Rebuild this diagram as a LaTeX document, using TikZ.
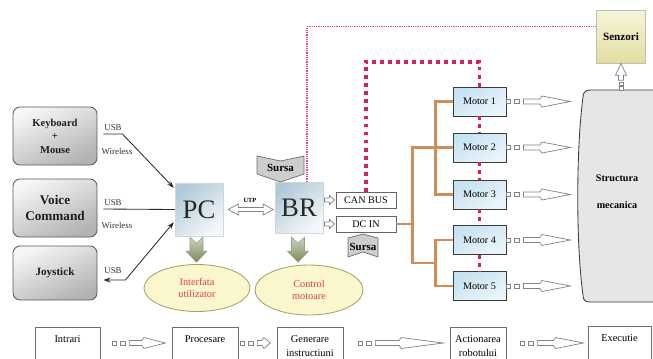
\documentclass[tikz,border=0pt]{standalone}
\usepackage{fontspec}
\setmainfont{Liberation Serif}
\usetikzlibrary{calc,shapes.geometric,arrows.meta}
\newcommand\pxu{0.025cm}

\begin{document}
\begin{tikzpicture}[x=0.025cm,y=-0.025cm,
  leftbox/.style={draw=r90g90b90, line width=0.6pt, rounded corners=5pt,
    top color=r246g246b246, bottom color=r178g178b178, shading angle=25,
    minimum width=84*\pxu, inner sep=0pt, align=center, text=r30g30b30},
  unitbox/.style={draw=r205g215b220, line width=0.3pt,
    top color=r178g202b216, bottom color=r244g247b249, shading angle=40,
    minimum width=48*\pxu, minimum height=52*\pxu, inner sep=0pt,
    text=r40g40b40, font=\fontsize{19}{19}\selectfont},
  portbox/.style={draw=r100g100b100, line width=0.6pt, fill=white,
    minimum width=60*\pxu, minimum height=16*\pxu, inner sep=0pt,
    font=\fontsize{7.2}{8}\selectfont},
  motorbox/.style={draw=r60g60b60, line width=0.6pt,
    top color=r198g226b241, bottom color=r234g245b251, shading angle=30,
    minimum width=53*\pxu, minimum height=29*\pxu, inner sep=0pt,
    font=\fontsize{7.2}{8}\selectfont},
  bubble/.style={ellipse, draw=r160g160b110, line width=0.6pt, fill=r250g247b205,
    minimum width=106*\pxu, minimum height=47*\pxu, inner sep=0pt, align=center,
    text=r225g60b80, font=\fontsize{7.3}{8.2}\selectfont},
  stagebox/.style={draw=r110g110b110, line width=0.5pt, fill=white, anchor=north,
    align=center, text height=6pt, text depth=16pt, inner ysep=4.6pt, inner xsep=0pt,
    font=\fontsize{7.4}{9.8}\selectfont},
  twoline/.style={text height=15.8pt, text depth=6.2pt},
  portlbl/.style={font=\fontsize{6.3}{7}\selectfont, text=r50g50b50, inner sep=0pt},
  conn/.style={line width=0.6pt, r40g40b40},
  busline/.style={line width=2.1pt, r210g140b85},
  candot/.style={line width=2.8pt, r220g30b90, dash pattern=on 2.8pt off 2.9pt},
  sensdot/.style={line width=0.9pt, r232g70b115, dash pattern=on 0.9pt off 0.7pt},
  openarr/.style={draw=r130g130b130, line width=0.5pt, fill=white},
  chevron/.style={draw=r110g110b110, line width=0.5pt, fill=r205g205b205},
  bigarr/.style={draw=r150g160b130, line width=0.4pt,
    top color=r208g208b202, bottom color=r120g140b85},
  pics/flowarr/.style={code={%
    \draw[openarr] (0,-2) rectangle (4,2);
    \draw[openarr] (8,-2) rectangle (13,2);
    \draw[openarr] (17,-2.5) -- ({17+0.35*(#1-17)},-2.5) -- ({19+0.35*(#1-17)},-5.5)
      -- (#1,0) -- ({19+0.35*(#1-17)},5.5) -- ({17+0.35*(#1-17)},2.5) -- (17,2.5) -- cycle;
  }},
  pics/tinyarr/.style={code={%
    \draw[openarr] (-11,-2) -- (-6,-2) -- (-6,-4.5) -- (-1,0) -- (-6,4.5) -- (-6,2) -- (-11,2) -- cycle;
  }}
]
\clip (0,0) rectangle (653,358);
{\footnotesize

% Defining colors
\definecolor{r30g30b30}{RGB}{30,30,30}%
\definecolor{r40g40b40}{RGB}{40,40,40}%
\definecolor{r50g50b50}{RGB}{50,50,50}%
\definecolor{r60g60b60}{RGB}{60,60,60}%
\definecolor{r90g90b90}{RGB}{90,90,90}%
\definecolor{r100g100b100}{RGB}{100,100,100}%
\definecolor{r110g110b110}{RGB}{110,110,110}%
\definecolor{r130g130b130}{RGB}{130,130,130}%
\definecolor{r178g178b178}{RGB}{178,178,178}%
\definecolor{r205g205b205}{RGB}{205,205,205}%
\definecolor{r230g230b230}{RGB}{230,230,230}%
\definecolor{r246g246b246}{RGB}{246,246,246}%
\definecolor{r205g215b220}{RGB}{205,215,220}%
\definecolor{r178g202b216}{RGB}{178,202,216}%
\definecolor{r244g247b249}{RGB}{244,247,249}%
\definecolor{r198g226b241}{RGB}{198,226,241}%
\definecolor{r234g245b251}{RGB}{234,245,251}%
\definecolor{r160g160b110}{RGB}{160,160,110}%
\definecolor{r250g247b205}{RGB}{250,247,205}%
\definecolor{r225g60b80}{RGB}{225,60,80}%
\definecolor{r210g140b85}{RGB}{210,140,85}%
\definecolor{r220g30b90}{RGB}{220,30,90}%
\definecolor{r232g70b115}{RGB}{232,70,115}%
\definecolor{r150g160b130}{RGB}{150,160,130}%
\definecolor{r208g208b202}{RGB}{208,208,202}%
\definecolor{r120g140b85}{RGB}{120,140,85}%
\definecolor{r246g244b218}{RGB}{246,244,218}%
\definecolor{r226g222b160}{RGB}{226,222,160}%
\definecolor{r190g190b180}{RGB}{190,190,180}%

% Drawing input devices
\node[leftbox, minimum height=58*\pxu, font=\bfseries\fontsize{7.5}{9.6}\selectfont] (kbd) at (55,136) {Keyboard\\+\\Mouse};%
\node[leftbox, minimum height=58*\pxu, font=\bfseries\fontsize{9.4}{11.3}\selectfont] (voice) at (55,208) {Voice\\Command};%
\node[leftbox, minimum height=54*\pxu, font=\bfseries\fontsize{7.9}{9}\selectfont] (joy) at (55,273) {Joystick};%

% Marking port labels
\node[portlbl] (usbA) at (113,128) {USB};%
\node[portlbl] (wlA) at (117,151) {Wireless};%
\node[portlbl] (usbB) at (113,203) {USB};%
\node[portlbl] (wlB) at (117,225) {Wireless};%
\node[portlbl] (usbC) at (113,271) {USB};%

% Drawing PC and BR
\node[unitbox, minimum height=53*\pxu] (pc) at (199,209.5) {PC};%
\node[unitbox, minimum height=51*\pxu] (br) at (299,207.5) {BR};%

% Drawing device links
\draw[conn, -{Stealth[length=5pt,width=3.5pt]}] ($(kbd.east)+(6,-2)$) -- ($(kbd.east)+(25,-2)$) -- ($(pc.north west)+(-1,5)$);%
\draw[conn] ($(voice.east)+(6,1)$) -- (pc.west);%
\draw[conn, {Stealth[length=5pt,width=3.5pt]}-{Stealth[length=5pt,width=3.5pt]}] ($(joy.east)+(6,7)$) -- ($(joy.east)+(28,7)$) -- ($(pc.south west)+(-1,-14)$);%

% Drawing UTP link
\draw[openarr, shift={(pc.east)}] (5,0) -- (15,-5.5) -- (15,-2) -- (40,-2) -- (40,-5.5) -- (50,0)
  -- (40,5.5) -- (40,2) -- (15,2) -- (15,5.5) -- cycle;%
\node[font=\bfseries\fontsize{4.5}{5}\selectfont, inner sep=0pt] (utp) at (250,200) {UTP};%

% Drawing supply on top of BR
\path (280.5,168) coordinate (supA);%
\draw[chevron, shift={(supA)}] (-23.5,-12) -- (0,-7) -- (23.5,-12) -- (23.5,6) -- (0,14) -- (-23.5,6) -- cycle;%
\node[font=\bfseries\fontsize{7.8}{8}\selectfont, inner sep=0pt] (sursaA) at (supA) {Sursa};%

% Drawing ports
\node[portbox] (can) at (366,200) {CAN BUS};%
\node[portbox] (dcin) at (366,224) {DC IN};%
\pic at (can.west) {tinyarr};%
\pic at (dcin.west) {tinyarr};%

% Drawing supply under DC IN
\path (363,246) coordinate (supB);%
\draw[chevron, shift={(supB)}] (0,-12) -- (15,-8) -- (15,11) -- (0,6) -- (-15,11) -- (-15,-8) -- cycle;%
\node[font=\bfseries\fontsize{7.8}{8}\selectfont, inner sep=0pt] (sursaB) at ($(supB)+(0,1)$) {Sursa};%

% Drawing ellipses
\node[bubble] (ui) at (197,288) {Interfata\\utilizator};%
\node[bubble, minimum width=108*\pxu, minimum height=50*\pxu] (ctrl) at (309,290) {Control\\motoare};%

% Drawing down arrows
\draw[bigarr, shift={($(pc.south)+(-2.5,1)$)}] (-6.5,0) -- (0,6) -- (6.5,0) -- (6.5,14) -- (10.5,14) -- (0,25)
  -- (-10.5,14) -- (-6.5,14) -- cycle;%
\draw[bigarr, shift={($(br.south)+(-1,4)$)}] (-6.5,0) -- (0,6) -- (6.5,0) -- (6.5,14) -- (10.5,14) -- (0,25)
  -- (-10.5,14) -- (-6.5,14) -- cycle;%

% Drawing motors
\foreach \i/\y in {1/101.5, 2/147.5, 3/194.5, 4/240, 5/286}
  \node[motorbox] (m\i) at (479.5,\y) {Motor \i};%

% Drawing power bus
\draw[busline] (dcin.east) -- ($(dcin.east)+(17,0)$);%
\draw[busline] (m2.west) -| ($(m4.west)!0.5!(m5.west)+(-40,0)$) -- ++(24,0);%
\draw[busline] (m1.west) -- ++(-17,0) |- (m3.west);%
\draw[busline] (m4.west) -- ++(-17,0) |- (m5.west);%

% Drawing CAN bus
\draw[candot] (can.north) |- ($(m1.north)+(0,-25)$) -- (m1.north);%
\foreach \i/\j in {1/2, 2/3, 3/4, 4/5}
  \draw[candot] (m\i.south) -- (m\j.north);%

% Drawing mechanical structure
\draw[draw=r60g60b60, line width=0.6pt, fill=r230g230b230] (657,90) -- (590,90) .. controls (585,90) and (583,93) .. (583,97)
  .. controls (576,150) and (576,245) .. (583,295) .. controls (583,300) and (585,302) .. (590,302) -- (657,302) -- cycle;%
\node[align=center, font=\bfseries\fontsize{7.2}{19}\selectfont, inner sep=0pt] (mech) at (617,191.5) {Structura\\mecanica};%
\foreach \i in {1,...,5}
  \pic at (m\i.east) {flowarr=64};%

% Drawing sensors
\node[draw=r190g190b180, line width=0.4pt, top color=r246g244b218, bottom color=r226g222b160,
  minimum width=49*\pxu, minimum height=53*\pxu, inner sep=0pt, font=\bfseries\fontsize{7.9}{8}\selectfont] (senz) at (621,36.5) {Senzori};%
\draw[openarr, shift={(senz.south)}] (0,0) -- (5.5,12) -- (2.5,12) -- (2.5,17) -- (-2.5,17) -- (-2.5,12) -- (-5.5,12) -- cycle;%
\draw[openarr, shift={(senz.south)}] (-2,19) rectangle (2,22.5);%
\draw[openarr, shift={(senz.south)}] (-2,23.5) rectangle (2,27);%
\draw[sensdot] ($(br.north)+(8,0)$) |- ($(senz.north west)+(0,17)$);%

% Drawing stages
\node[stagebox, minimum width=65*\pxu] (st1) at (67.5,327) {Intrari};%
\node[stagebox, minimum width=66*\pxu] (st2) at (205,327) {Procesare};%
\node[stagebox, twoline, minimum width=66*\pxu] (st3) at (310,327) {Generare\\instructiuni};%
\node[stagebox, twoline, minimum width=56*\pxu] (st4) at (478,327) {Actionarea\\robotului};%
\node[stagebox, minimum width=63*\pxu] (st5) at (619.5,326) {Executie};%
\pic at ($(st1.north east)+(12,16)$) {flowarr=53};%
\pic at ($(st2.north east)+(2,16)$) {flowarr=30};%
\pic at ($(st3.north east)+(15,16)$) {flowarr=85};%
\pic at ($(st4.north east)+(14,16)$) {flowarr=63};%
}
\end{tikzpicture}
\end{document}
